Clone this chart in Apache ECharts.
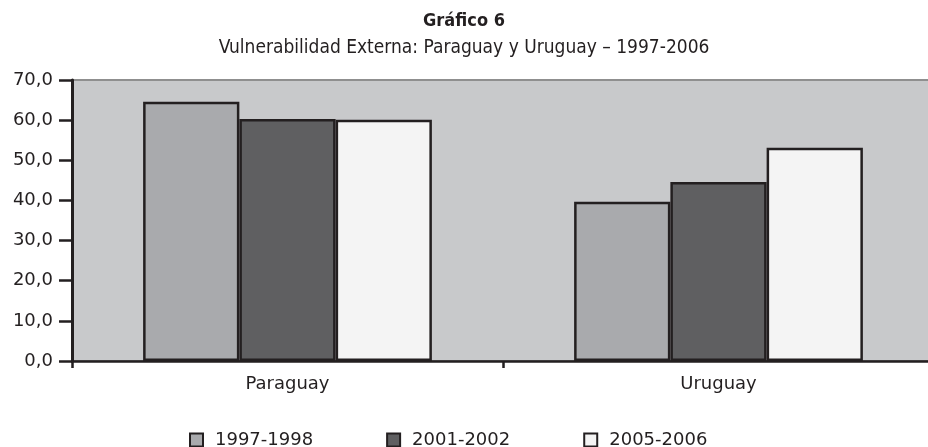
<!DOCTYPE html>
<html>
<head>
<meta charset="utf-8">
<script src="https://cdn.jsdelivr.net/npm/echarts@6/dist/echarts.min.js"></script>
<style>
  html, body { margin: 0; padding: 0; background: #fff; }
  #chart { width: 928px; height: 447px; }
</style>
</head>
<body>
<div id="chart"></div>
<script>
// Vulnerabilidad externa, valores
var categories = ['Paraguay', 'Uruguay'];
var seriesNames = ['1997-1998', '2001-2002', '2005-2006'];
var v1997 = [64.6, 39.7];
var v2001 = [60.3, 44.6];
var v2005 = [60.1, 53.1];
var seriesColors = ['#a9aaad', '#5f5f61', '#f4f4f4'];

var sans = 'DejaVu Sans, Liberation Sans, sans-serif';
var narrow = 'Liberation Sans Narrow, DejaVu Sans Condensed, sans-serif';

function fmt(v) {
    return v.toFixed(1).replace('.', ',');
}

function makeSeries(name, data, color) {
    return {
        name: name,
        type: 'bar',
        data: data,
        barGap: '0%',
        barCategoryGap: '33%',
        itemStyle: { color: color, borderColor: '#231f20', borderWidth: 2.5 },
        emphasis: { disabled: true }
    };
}

var chart = echarts.init(document.getElementById('chart'));
chart.setOption({
    animation: false,
    title: [{
        text: 'Gráfico 6',
        left: 'center',
        top: 7,
        textStyle: { fontFamily: narrow, fontWeight: 'bold', fontSize: 18, color: '#231f20' }
    }, {
        text: 'Vulnerabilidad Externa: Paraguay y Uruguay – 1997-2006',
        left: 'center',
        top: 34,
        textStyle: { fontFamily: narrow, fontWeight: 'normal', fontSize: 19, color: '#231f20' }
    }],
    legend: {
        left: 184,
        top: 426,
        itemWidth: 13,
        itemHeight: 13,
        itemGap: 73,
        icon: 'rect',
        textStyle: { fontFamily: sans, fontSize: 18, color: '#231f20', padding: [0, 0, 0, 7] },
        data: seriesNames
    },
    grid: {
        left: 72,
        top: 80,
        bottom: 86,
        width: 862,
        outerBoundsMode: 'none',
        containLabel: false,
        show: true,
        backgroundColor: '#c8c9cb',
        borderColor: '#8f8f8f',
        borderWidth: 2
    },
    xAxis: {
        type: 'category',
        data: categories,
        axisLine: { lineStyle: { color: '#231f20', width: 2.5 } },
        axisTick: { show: true, length: 7, lineStyle: { color: '#231f20', width: 2.5 } },
        axisLabel: { fontFamily: sans, fontSize: 18, color: '#231f20', margin: 14 }
    },
    yAxis: {
        type: 'value',
        min: 0,
        max: 70,
        interval: 10,
        axisLine: { show: true, lineStyle: { color: '#231f20', width: 3 } },
        axisTick: { show: true, length: 13, lineStyle: { color: '#231f20', width: 2.5 } },
        splitLine: { show: false },
        axisLabel: { fontFamily: sans, fontSize: 18, color: '#231f20', margin: 19, formatter: fmt }
    },
    series: [
        makeSeries(seriesNames[0], v1997, seriesColors[0]),
        makeSeries(seriesNames[1], v2001, seriesColors[1]),
        makeSeries(seriesNames[2], v2005, seriesColors[2])
    ]
});
</script>
</body>
</html>
